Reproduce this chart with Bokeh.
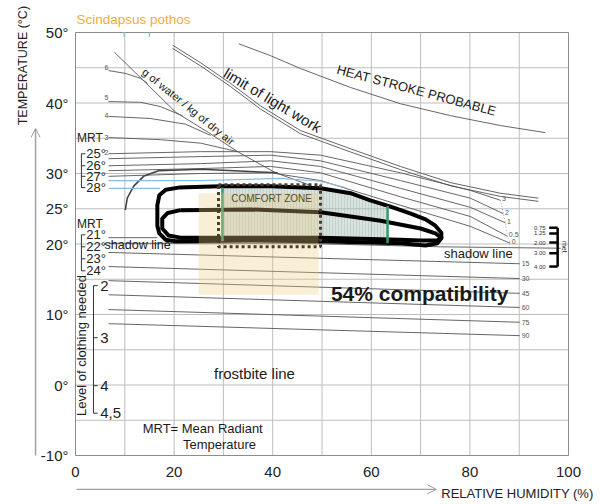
import numpy as np
from bokeh.plotting import figure
from bokeh.models import Arrow, OpenHead, Range1d
from bokeh.embed import file_html
from bokeh.resources import INLINE
from bokeh.core.properties import value

FONT = "Liberation Sans"

# ---------------- data (RH %, temperature °C) ----------------
temp_ticks = [-10, 0, 10, 20, 25, 30, 40, 50]
rh_ticks = [0, 20, 40, 60, 80, 100]
rh_grid = list(range(0, 101, 10))
temp_grid = list(range(-10, 51, 5))

heat_rh = [33.1, 39.6, 45.6, 55.8, 65.9, 76.1, 86.2, 95.3]
heat_t = [48.4, 46.7, 44.9, 42.2, 39.9, 38.2, 36.8, 35.8]

work_rh = [19.7, 25.4, 31.4, 37.5, 45.6, 55.8, 65.9, 76.1, 86.2, 93.9]
work_t = [48.2, 45.7, 42.8, 39.6, 36.1, 33.5, 31.0, 28.7, 27.2, 26.5]

water_rh = [7.9, 14.2, 20.3, 27.0, 33.1, 40.6, 47.7]
water_t = [47.2, 42.9, 38.7, 35.8, 33.0, 30.1, 28.3]

g6_rh = [6.7, 10.1, 13.2, 14.6]
g6_t = [44.6, 44.2, 43.5, 42.8]
g5_rh = [6.7, 13.2, 17.2, 21.7]
g5_t = [40.2, 40.1, 39.5, 38.2]
g4_rh = [6.7, 15.2, 22.3, 27.4]
g4_t = [38.1, 37.8, 37.0, 35.4]
g3_rh = [6.7, 17.2, 25.4, 32.9]
g3_t = [35.1, 34.8, 34.3, 33.1]

bundle_rh = [6.7, 25.4, 39.6, 49.7, 65.9, 80.1]
bundle_end_rh = [86.2, 86.8, 87.2, 87.6, 88.2]
wind_t = [
    [32.8, 33.1, 33.1, 32.6, 30.1, 27.6, 26.2],
    [32.1, 32.4, 32.6, 31.8, 29.0, 26.5, 24.3],
    [31.1, 31.4, 31.8, 31.0, 27.9, 25.2, 23.0],
    [30.4, 30.7, 31.0, 30.1, 26.7, 23.9, 21.1],
    [29.6, 30.0, 30.1, 29.0, 25.5, 22.5, 20.1],
]
wind_labels = ["3", "2", "1", "0.5", "0"]

arc_rh = [10.1, 10.5, 11.8, 13.8, 16.8, 25.4, 41.0]
arc_t = [24.8, 26.5, 28.2, 29.6, 30.4, 30.6, 30.1]

blue1_rh = [6.7, 25.4, 41.6, 49.7, 54.8]
blue1_t = [29.0, 29.0, 29.3, 28.9, 28.0]
blue2_rh = [6.7, 17.2]
blue2_t = [27.9, 27.9]

shadow_rh = [6.7, 45.6, 74.0, 98.4]
shadow_t = [20.1, 20.1, 19.6, 19.4]

rad_labels = ["15", "30", "45", "60", "75", "90"]
rad_start_t = [18.8, 16.8, 14.8, 12.8, 10.7, 8.7]
rad_end_t = [17.2, 15.1, 13.0, 11.0, 8.9, 7.0]
rad_rh = [6.7, 90.1]

outer_rh = [20.9, 29.4, 39.6, 49.7, 55.8, 59.8, 63.9, 68.0, 71.0, 73.0, 74.2, 74.2,
            73.4, 71.0, 65.9, 49.7, 35.5, 20.3, 18.3, 17.0, 16.6, 16.6, 17.0, 18.3, 20.9]
outer_t = [28.0, 28.2, 28.2, 27.9, 27.2, 26.2, 25.3, 24.3, 23.5, 22.6, 21.6, 20.8,
           20.1, 19.8, 20.1, 20.4, 20.5, 20.4, 20.6, 21.5, 22.6, 25.5, 26.9, 27.7, 28.0]
inner_rh = [21.3, 35.5, 49.7, 61.9, 70.0, 73.0, 74.2, 73.4, 70.0, 65.9, 49.7, 35.5,
            21.3, 18.9, 17.6, 17.6, 18.7, 21.3]
inner_t = [24.8, 24.9, 24.5, 23.3, 22.2, 21.5, 20.9, 20.5, 20.5, 20.6, 20.9, 20.9,
           20.9, 21.2, 22.2, 23.6, 24.4, 24.8]

comfort_rh = [29.8, 39.6, 49.7, 55.8, 59.8, 63.3, 63.3, 49.7, 35.5, 29.8]
comfort_t = [28.2, 28.2, 27.9, 27.2, 26.2, 25.4, 20.15, 20.4, 20.5, 20.45]

plant_rh = [25.0, 49.3]
plant_t = [12.8, 27.2]
dotted_rh = [29.0, 49.7]
dotted_t = [19.6, 28.4]

green_rh = [29.8, 63.3]
green_bottom = [20.4, 20.1]
green_top = [28.0, 25.4]

mrt_hi_labels = ["25°", "26°", "27°", "28°"]
mrt_hi_t = [32.8, 31.1, 29.6, 28.0]
mrt_lo_labels = ["21°", "22°", "23°", "24°"]
mrt_lo_t = [21.3, 19.6, 17.9, 16.2]

cloth_labels = ["2", "3", "4", "4,5"]
cloth_t = [14.1, 6.7, -0.1, -4.0]

met_labels = ["0.75", "1.25", "2.00", "3.00", "4.00"]
met_t = [22.3, 21.5, 20.2, 18.7, 16.8]

gw_labels = ["6", "5", "4", "3", "2"]
gw_t = [45.0, 40.8, 38.2, 35.1, 33.0]

# ---------------- figure ----------------
# canvas 600x504; chart frame occupies px 75..568 (RH 0..100) and 32..455 (50..-10 °C)
PX_X = 493 / 100.0
PX_Y = 423 / 60.0
p = figure(width=600, height=504,
           x_range=Range1d(-75 / PX_X, 100 + 32 / PX_X),
           y_range=Range1d(-10 - 49 / PX_Y, 50 + 32 / PX_Y),
           output_backend="svg", toolbar_location=None,
           min_border_left=0, min_border_right=0, min_border_top=0, min_border_bottom=0)
p.axis.visible = False
p.grid.visible = False
p.outline_line_color = None
p.background_fill_color = "white"
p.border_fill_color = "white"

# chart frame grid
p.segment(x0=rh_grid, y0=[-10] * len(rh_grid), x1=rh_grid, y1=[50] * len(rh_grid),
          line_color="#bdbdbd", line_width=1)
p.segment(x0=[0] * len(temp_grid), y0=temp_grid, x1=[100] * len(temp_grid), y1=temp_grid,
          line_color="#bdbdbd", line_width=1)

# tick labels
p.text(x=[-1.42] * len(temp_ticks), y=temp_ticks, text=[f"{t}°" for t in temp_ticks],
       text_font=value(FONT), text_font_size="15px", text_color="#222222",
       text_align="right", text_baseline="middle")
p.text(x=rh_ticks, y=[-12.4] * len(rh_ticks), text=[str(t) for t in rh_ticks],
       text_font=value(FONT), text_font_size="15px", text_color="#222222",
       text_align="center", text_baseline="middle")

# comfort zone shading (under the lines)
p.patch(comfort_rh, comfort_t, fill_color="#a9c2b8", fill_alpha=0.45, line_color=None,
        hatch_pattern="vertical_line", hatch_color="#8fa89e", hatch_alpha=0.3, hatch_scale=3)

thin = dict(line_color="#555555", line_width=0.9)

# upper limit lines
p.line(heat_rh, heat_t, **thin)
p.line(work_rh, work_t, **thin)
p.line(work_rh, list(np.array(work_t) - 0.45), **thin)
p.line(water_rh, water_t, **thin)
for xs, ys in ((g6_rh, g6_t), (g5_rh, g5_t), (g4_rh, g4_t), (g3_rh, g3_t)):
    p.line(xs, ys, **thin)

for ts, xe in zip(wind_t, bundle_end_rh):
    p.line(bundle_rh + [xe], ts, **thin)
p.line(arc_rh, arc_t, line_color="#444444", line_width=1.6)
p.line(blue1_rh, blue1_t, line_color="#8dbbe0", line_width=1.2)
p.line(blue2_rh, blue2_t, line_color="#8dbbe0", line_width=1.2)
p.line(bundle_end_rh, [ts[-1] for ts in wind_t], line_color="#999999",
       line_width=0.8, line_dash="1 2")

# lower radiation lines and shadow line
for t0, t1 in zip(rad_start_t, rad_end_t):
    p.line(rad_rh, [t0, t1], **thin)
p.line(shadow_rh, shadow_t, **thin)
p.line([rad_rh[0], 16.6], [20.9, 20.9], **thin)

# comfort loops
p.line(outer_rh, outer_t, line_color="black", line_width=4, line_join="round")
p.line(inner_rh, inner_t, line_color="black", line_width=4, line_join="round")
p.segment(x0=green_rh, y0=green_bottom, x1=green_rh, y1=green_top,
          line_color="#3a9a6e", line_width=2.5)

# plant temperature/humidity range, translucent over the loops
p.quad(left=plant_rh[0], right=plant_rh[1], bottom=plant_t[0], top=plant_t[1],
       fill_color="#ebca80", fill_alpha=0.32, line_color=None)

p.quad(left=dotted_rh[0], right=dotted_rh[1], bottom=dotted_t[0], top=dotted_t[1],
       fill_color=None, line_color="#4a3d30", line_width=3, line_dash="3 3")

# frame outline
p.quad(left=0, right=100, bottom=-10, top=50, fill_color=None,
       line_color="#8c8c8c", line_width=1)

# top teal ticks
p.segment(x0=[9.9, 15.0], y0=[50, 50], x1=[9.9, 15.0], y1=[49.4, 49.4],
          line_color="#7ccfd8", line_width=1.5)

# MRT brackets
p.segment(x0=[1.2, 1.2], y0=[mrt_hi_t[0], mrt_lo_t[0]], x1=[1.2, 1.2],
          y1=[mrt_hi_t[-1], mrt_lo_t[-1]], line_color="#333333", line_width=1)
p.segment(x0=[1.2] * 8, y0=mrt_hi_t + mrt_lo_t, x1=[2.0] * 8, y1=mrt_hi_t + mrt_lo_t,
          line_color="#333333", line_width=1)
p.text(x=[2.2] * 8, y=mrt_hi_t + mrt_lo_t, text=mrt_hi_labels + mrt_lo_labels,
       text_font=value(FONT), text_font_size="13px", text_color="#222222",
       text_align="left", text_baseline="middle")
p.text(x=[0.3, 0.3], y=[35.1, 22.8], text=["MRT", "MRT"], text_font=value(FONT),
       text_font_size="12px", text_color="#222222", text_align="left", text_baseline="middle")

# clothing bracket
p.segment(x0=[3.65], y0=[cloth_t[0]], x1=[3.65], y1=[cloth_t[-1]], line_color="#333333", line_width=1)
p.segment(x0=[3.65] * 4, y0=cloth_t, x1=[4.5] * 4, y1=cloth_t, line_color="#333333", line_width=1)
p.text(x=[5.0] * 4, y=cloth_t, text=cloth_labels, text_font=value(FONT), text_font_size="15px",
       text_color="#222222", text_align="left", text_baseline="middle")
p.text(x=[1.3], y=[5.6], text=["Level of clothing needed"], angle=np.pi / 2,
       text_font=value(FONT), text_font_size="13px", text_color="#222222",
       text_align="center", text_baseline="middle")

# met scale
p.segment(x0=[97.8], y0=[met_t[0]], x1=[97.8], y1=[met_t[-1]], line_color="black", line_width=2.5)
p.segment(x0=[96.1] * 5, y0=met_t, x1=[97.8] * 5, y1=met_t, line_color="black", line_width=2.5)
p.text(x=[93.0] * 5, y=met_t, text=met_labels, text_font=value(FONT), text_font_size="6px",
       text_color="#333333", text_align="left", text_baseline="middle")
p.text(x=[99.1], y=[19.6], text=["met"], angle=-np.pi / 2, text_font=value(FONT),
       text_font_size="7px", text_color="#333333", text_align="center", text_baseline="middle")

# small numeric labels
small = dict(text_font=value(FONT), text_font_size="7px", text_color="#555555",
             text_align="left", text_baseline="middle")
p.text(x=[5.9] * 5, y=gw_t, text=gw_labels, **small)
p.text(x=[e + 0.3 for e in bundle_end_rh], y=[ts[-1] + 0.2 for ts in wind_t], text=wind_labels, **small)
p.text(x=[90.5] * 6, y=rad_end_t, text=rad_labels, **small)


def txt(x, y, s, size, angle=0.0, color="#1a1a1a", style="normal", align="center"):
    p.text(x=[x], y=[y], text=[s], angle=angle, text_font=value(FONT), text_font_size=size,
           text_color=color, text_font_style=style, text_align=align, text_baseline="middle")


txt(69.2, 41.8, "HEAT STROKE PROBABLE", "13px", angle=-0.26)
txt(40.0, 40.4, "limit of light work", "15px", angle=-0.54)
txt(22.9, 39.5, "g of water / kg of dry air", "11px", angle=-0.68)
txt(39.8, 26.5, "COMFORT ZONE", "10px", color="#5b4a2e")
txt(69.8, 13.0, "54% compatibility", "21px", style="bold")
txt(36.3, 1.6, "frostbite line", "15px")
txt(25.8, -6.2, "MRT= Mean Radiant", "13px")
txt(29.2, -8.4, "Temperature", "13px")
txt(5.9, 19.8, "shadow line", "12.5px", align="left")
txt(81.7, 18.7, "shadow line", "13px")

# labels and arrows around the frame
txt(0.2, 51.84, "Scindapsus pothos", "13.5px", color="#f2ad3c", align="left")
txt(-10.75, 45.3, "TEMPERATURE (°C)", "12.5px", angle=np.pi / 2, color="#222222")
txt(74.2, -15.4, "RELATIVE HUMIDITY (%)", "13px", color="#222222", align="left")
p.add_layout(Arrow(end=OpenHead(size=9, line_color="#a0a0a0", line_width=1),
                   x_start=-8.1, y_start=-10, x_end=-8.1, y_end=36.4,
                   line_color="#a0a0a0", line_width=1.5))
p.add_layout(Arrow(end=OpenHead(size=9, line_color="#a0a0a0", line_width=1),
                   x_start=0.2, y_start=-14.8, x_end=73.2, y_end=-14.8,
                   line_color="#a0a0a0", line_width=1.2))

open("out.html", "w").write(file_html(p, INLINE))
